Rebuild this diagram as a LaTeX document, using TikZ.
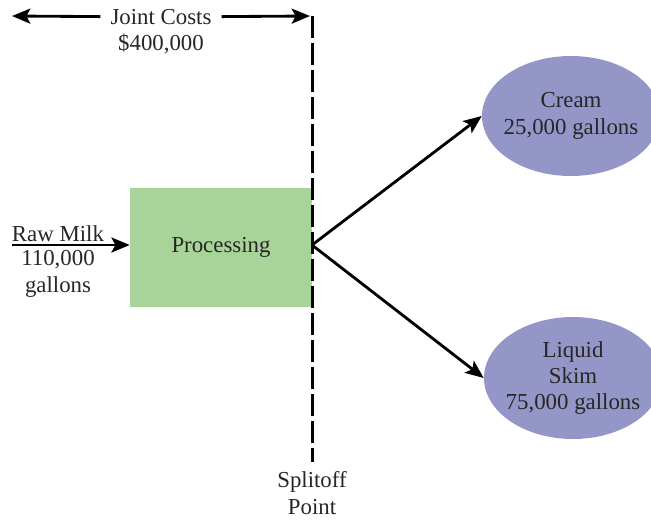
\documentclass[tikz,border=0pt]{standalone}
\usepackage{fontspec}
\setmainfont{Liberation Serif}
\usetikzlibrary{arrows.meta,shapes.geometric}
\definecolor{procgreen}{RGB}{168,212,154}
\definecolor{prodblue}{RGB}{149,150,200}
\tikzset{
	lbl/.style={font=\fontsize{19.5}{22.5}\selectfont, align=center, text=black!85},
	flow/.style={line width=0.085cm, -{Stealth[length=0.55cm,width=0.45cm,inset=0.12cm]}},
	product/.style={ellipse, fill=prodblue, minimum width=5.34cm, minimum height=3.6cm, inner sep=0pt}
}
\begin{document}
\begin{tikzpicture}[x=0.03cm,y=-0.03cm]
	\useasboundingbox (0,0) rectangle (651,519);
	\coordinate (ltip) at (12,16);
	\coordinate (rtip) at (310,16);
	\coordinate (dtop) at (312,16);
	\coordinate (dbot) at (312,462);
	\coordinate (split) at (312,245);
	\coordinate (milkin) at (12,245);
	\node (proc) at (221,247.5) [rectangle, fill=procgreen, minimum width=5.46cm, minimum height=3.57cm, lbl] {Processing};
	\node (cream) at (571,116) [product] {};
	\node (skim) at (573,378) [product, minimum height=3.66cm] {};
	\node at (cream) [lbl] {Cream\\25,000 gallons};
	\node at (skim) [lbl] {Liquid\\Skim\\75,000 gallons};
	\node (jc) at (161,17) [lbl, inner xsep=0.3cm] {Joint Costs};
	\node (jcval) at (161,44) [lbl] {\$400,000};
	\node (rm) at (58,234) [lbl, inner sep=0pt] {Raw Milk};
	\node (rmval) at (58,274) [lbl, inner sep=0pt] {110,000\\gallons};
	\node (sp) at (312,493) [lbl, inner sep=0pt] {Splitoff\\Point};
	\draw [flow] (jc) -- (ltip);
	\draw [flow] (jc) -- (rtip);
	\draw [line width=0.09cm, dash pattern=on 0.65cm off 0.16cm] (dtop)--(dbot);
	\draw [flow] (milkin) -- (milkin -| proc.west);
	\draw [flow] (split) -- (cream.west);
	\draw [flow] (split) -- (skim.west);
\end{tikzpicture}
\end{document}
